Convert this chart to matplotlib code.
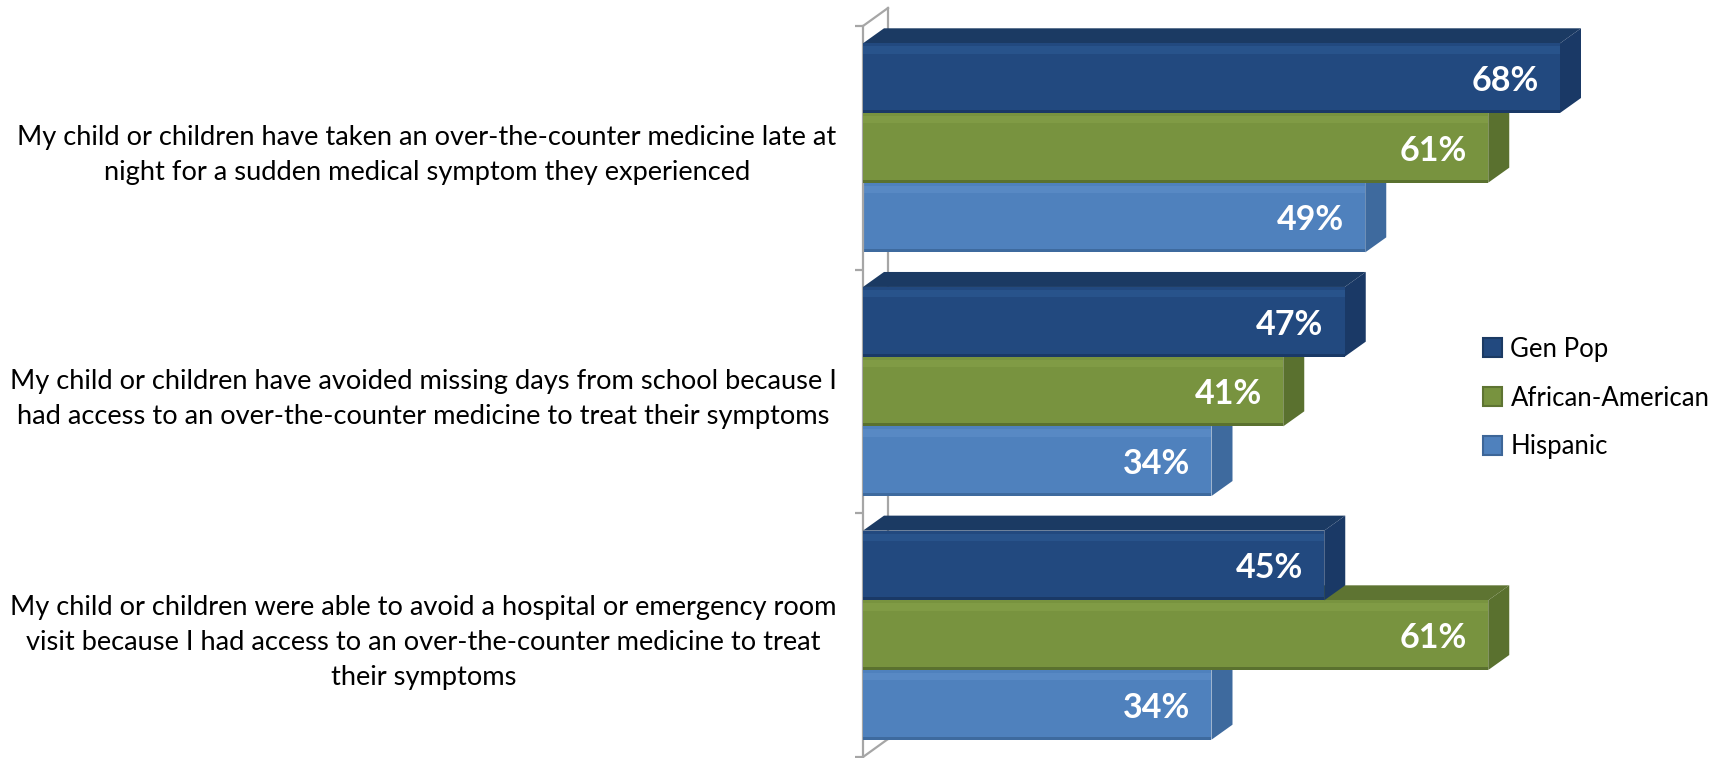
import numpy as np
import matplotlib
matplotlib.use("Agg")
import matplotlib.pyplot as plt
from matplotlib.patches import Polygon, Rectangle

plt.rcParams['font.family'] = ['Lato', 'DejaVu Sans']

categories = [
    "My child or children have taken an over-the-counter medicine late at\n"
    "night for a sudden medical symptom they experienced",
    "My child or children have avoided missing days from school because I\n"
    "had access to an over-the-counter medicine to treat their symptoms",
    "My child or children were able to avoid a hospital or emergency room\n"
    "visit because I had access to an over-the-counter medicine to treat\n"
    "their symptoms",
]
series_names = ["Gen Pop", "African-American", "Hispanic"]
gen_pop = [68, 47, 45]
african_american = [61, 41, 61]
hispanic = [49, 34, 34]
series = [gen_pop, african_american, hispanic]

# front, top, side, highlight
palette = [
    ("#22497f", "#1b3a63", "#1a3966", "#2d5a94"),
    ("#78933f", "#5e7432", "#5a712f", "#86a24a"),
    ("#4f81bd", "#3d6698", "#3e6a9e", "#5f90c9"),
]

W, H = 1733, 758
fig = plt.figure(figsize=(W / 100, H / 100), dpi=100)

# plot area: zero line at x=863px, 10.25 px per percent; categories 26px..757px
px_per_pct = 10.25
px_per_cat = (757 - 26) / 3
ax = fig.add_axes([863 / W, 0, (W - 863) / W, 1])
ax.set_xlim(0, (W - 863) / px_per_pct)
ax.set_ylim(3 + 1 / px_per_cat, -26 / px_per_cat)

gray = "#a6a6a6"
for s in ["top", "right", "bottom"]:
    ax.spines[s].set_visible(False)
ax.spines["left"].set_bounds(0, 3)
ax.spines["left"].set_color(gray)
ax.spines["left"].set_linewidth(1.6)
ax.set_xticks([])
ax.set_yticks([0, 1, 2, 3])
ax.set_yticklabels([])
ax.tick_params(axis="y", which="major", length=6, width=1.6, color=gray)
ax.set_yticks([0.5, 1.5, 2.5], minor=True)
ax.set_yticklabels(categories, minor=True, fontsize=19.6, linespacing=1.5)
ax.tick_params(axis="y", which="minor", length=0, pad=19)
for t in ax.get_yticklabels(minor=True):
    t.set_multialignment("center")

# back wall of the 3D frame
wx, wy = 25 / px_per_pct, 18 / px_per_cat
ax.plot([wx, wx], [-wy, 3 - wy], color=gray, lw=1.6, zorder=1, clip_on=False)
ax.plot([0, wx], [0, -wy], color=gray, lw=1.6, zorder=1, clip_on=False)
ax.plot([0, wx], [3, 3 - wy], color=gray, lw=1.6, zorder=1, clip_on=False)

# 3D bars
bx, by = 21 / px_per_pct, 15 / px_per_cat
h = 0.286
hl = 0.03
z = 2
for i in range(len(categories)):
    for j in reversed(range(len(series))):
        v = series[j][i]
        y0 = i + 0.5 - 1.5 * h + j * h
        front, top, side, light = palette[j]
        ax.add_patch(Polygon([(0, y0), (v, y0), (v + bx, y0 - by), (bx, y0 - by)],
                             closed=True, fc=top, ec="none", zorder=z))
        ax.add_patch(Polygon([(v, y0), (v + bx, y0 - by), (v + bx, y0 + h - by), (v, y0 + h)],
                             closed=True, fc=side, ec="none", zorder=z))
        ax.add_patch(Rectangle((0, y0), v, h, fc=front, ec="none", zorder=z + 0.1))
        ax.add_patch(Rectangle((0, y0 + 0.012), v, hl, fc=light, ec="none", zorder=z + 0.2, alpha=0.6))
        ax.add_patch(Rectangle((0, y0 + h - 0.012), v, 0.012, fc=side, ec="none", zorder=z + 0.2))
        ax.text(v - 2.1, y0 + h / 2 + 0.012, f"{v}%", ha="right", va="center",
                color="white", fontsize=24.5, fontweight="bold", zorder=z + 0.5)
        z += 1

handles = [Rectangle((0, 0), 1, 1, fc=palette[k][0], ec=palette[k][1], lw=1.5)
           for k in range(3)]
fig.legend(handles, series_names, loc="center left", bbox_to_anchor=(1483 / W, 1 - 398 / H),
           frameon=False, fontsize=18.5, handlelength=0.72, handleheight=0.72,
           handletextpad=0.35, labelspacing=0.93, borderpad=0, borderaxespad=0)

fig.savefig("out.png", dpi=100)
